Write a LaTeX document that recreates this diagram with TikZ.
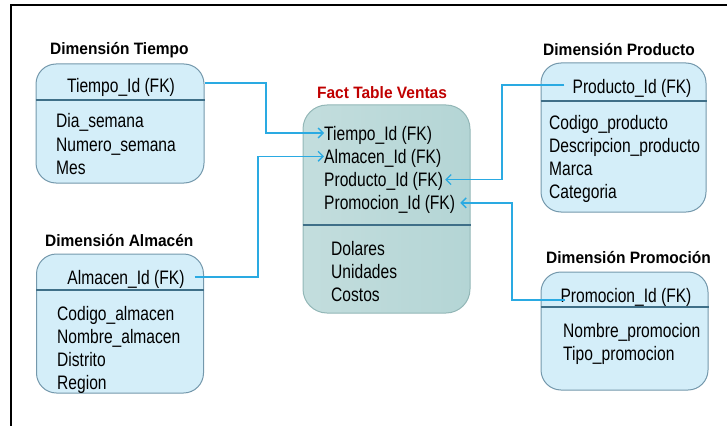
\documentclass[tikz,border=0pt]{standalone}
\usepackage{fontspec}
\setmainfont{Liberation Sans}
\newfontfamily\bodyfont{Liberation Sans}[FakeStretch=0.8]
\newfontfamily\headfont{Liberation Sans}[FakeStretch=0.94]
\usetikzlibrary{arrows.meta}

\definecolor{dimfill}{HTML}{D4EEF9}
\definecolor{dimline}{HTML}{7498AC}
\definecolor{rulecol}{HTML}{3F6F88}
\definecolor{factfill}{HTML}{B4D5D5}
\definecolor{factline}{HTML}{93B7B7}
\definecolor{linkcol}{HTML}{2AAAE2}
\definecolor{facttitle}{HTML}{C00000}

\tikzset{
  dimbox/.style={draw=dimline, fill=dimfill, line width=1pt, rounded corners=20pt, inner sep=0},
  factbox/.style={draw=factline, line width=1pt, rounded corners=24pt, inner sep=0,
    left color=factfill!80!white, right color=factfill},
  divider/.style={draw=rulecol, line width=1.2pt},
  field/.style={inner sep=0, anchor=west, font=\bodyfont\fontsize{19.5}{23}\selectfont,
    text height=14pt, text depth=0pt},
  keyfield/.style={field, anchor=center},
  dimtitle/.style={inner sep=0, anchor=west, font=\headfont\bfseries\fontsize{16.5}{20}\selectfont,
    text height=12pt, text depth=0pt},
  conn/.style={draw=linkcol, line width=1.3pt, -{Straight Barb[length=5pt,width=10pt]}},
}

\begin{document}
\begin{tikzpicture}[x=1pt, y=-1pt]
\useasboundingbox (0,0) rectangle (727,425);

% frame
\draw[line width=2pt] (10.5,426) -- (10.5,5.5) -- (728,5.5);

% ---------- Dimension Tiempo ----------
\node[dimtitle] (ttl) at (50,49) {Dimensión Tiempo};
\node[dimbox, minimum width=168pt, minimum height=119pt] (tiempo) at (120,123.5) {};
\draw[divider] (tiempo.west |- 0,100) -- (tiempo.east |- 0,100);
\node[keyfield] (tk) at (121,86) {Tiempo\_Id (FK)};
\foreach \t [count=\i] in {Dia\_semana, Numero\_semana, Mes}
  \node[field] (td\i) at ({56},{121+23*(\i-1)}) {\t};

% ---------- Dimension Almacen ----------
\node[dimtitle] (atl) at (45,240) {Dimensión Almacén};
\node[dimbox, minimum width=167pt, minimum height=139pt] (almacen) at (120,323.5) {};
\draw[divider] (almacen.west |- 0,290) -- (almacen.east |- 0,290);
\node[keyfield] (ak) at (126,277) {Almacen\_Id (FK)};
\foreach \t [count=\i] in {Codigo\_almacen, Nombre\_almacen, Distrito, Region}
  \node[field] (ad\i) at ({57},{313+23*(\i-1)}) {\t};

% ---------- Fact table ----------
\node[inner sep=0, font=\headfont\bfseries\fontsize{16.5}{20}\selectfont, text=facttitle,
  text height=12pt, text depth=0pt] (ftl) at (382,93) {Fact Table Ventas};
\node[factbox, minimum width=167pt, minimum height=208pt] (fact) at (386.5,209) {};
\draw[divider] (fact.west |- 0,225) -- (fact.east |- 0,225);
\foreach \t [count=\i] in {Tiempo\_Id (FK), Almacen\_Id (FK), Producto\_Id (FK), Promocion\_Id (FK)}
  \node[field] (f\i) at ({324},{133+23.3*(\i-1)}) {\t};
\foreach \t [count=\i] in {Dolares, Unidades, Costos}
  \node[field] (fm\i) at ({331},{248+23*(\i-1)}) {\t};

% ---------- Dimension Producto ----------
\node[dimtitle] (ptl) at (543,50) {Dimensión Producto};
\node[dimbox, minimum width=165pt, minimum height=149pt] (producto) at (623.5,137.5) {};
\draw[divider] (producto.west |- 0,101) -- (producto.east |- 0,101);
\node[keyfield] (pk) at (632,87) {Producto\_Id (FK)};
\foreach \t [count=\i] in {Codigo\_producto, Descripcion\_producto, Marca, Categoria}
  \node[field] (pd\i) at ({549},{122+23*(\i-1)}) {\t};

% ---------- Dimension Promocion ----------
\node[dimtitle] (mtl) at (546,257) {Dimensión Promoción};
\node[dimbox, minimum width=167pt, minimum height=118pt] (promocion) at (624.5,331) {};
\draw[divider] (promocion.west |- 0,307) -- (promocion.east |- 0,307);
\node[keyfield] (mk) at (626,295) {Promocion\_Id (FK)};
\foreach \t [count=\i] in {Nombre\_promocion, Tipo\_promocion}
  \node[field] (md\i) at ({563},{330+23*(\i-1)}) {\t};

% ---------- connectors ----------
\coordinate (j1) at (266,0);
\coordinate (j2) at (258,0);
\coordinate (j3) at (502,0);
\coordinate (j4) at (512,0);
\draw[conn] ([yshift=3pt]tiempo.east |- tk) -| (j1 |- f1) -- (f1.west);
\draw[conn] ([xshift=10pt]ak.east) -| (j2 |- f2) -- (f2.west);
\draw[conn] ([xshift=-8pt,yshift=2pt]pk.west) -| (j3 |- f3) -- ([xshift=2pt]f3.east);
\draw[conn] ([xshift=5pt,yshift=-5pt]mk.west) -| (j4 |- f4) -- ([xshift=5pt]f4.east);
\end{tikzpicture}
\end{document}
